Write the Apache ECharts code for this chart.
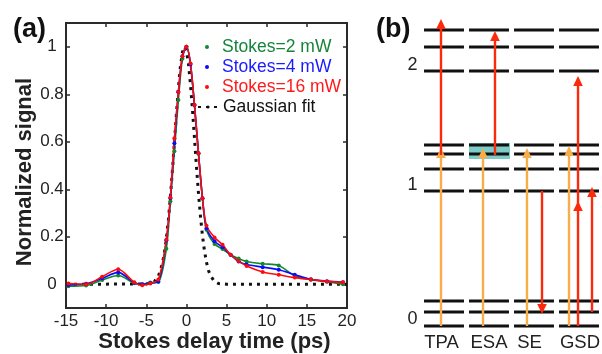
<!DOCTYPE html>
<html>
<head>
<meta charset="utf-8">
<script src="https://cdn.jsdelivr.net/npm/echarts@6/dist/echarts.min.js"></script>
<style>
  body { margin: 0; background: #fff; }
  #chart { width: 602px; height: 354px; }
</style>
</head>
<body>
<div id="chart"></div>
<script>
// panel (a): pump-probe traces
const delay = [-14.7, -12.5, -10.5, -8.5, -6.5, -5.5, -4.5, -3.5, -2.5, -2, -1.5, -1, -0.5, 0, 0.5, 1, 1.5, 2, 2.5, 3.5, 4.5, 5.5, 6.5, 7.5, 9.5, 11.5, 13.5, 15.5, 17.5, 19.5];
const stokes2 = [-0.008, -0.005, 0.018, 0.037, 0.004, 0.0, 0.007, 0.01, 0.15, 0.35, 0.56, 0.776, 0.95, 1.0, 0.93, 0.755, 0.55, 0.36, 0.229, 0.17, 0.148, 0.124, 0.108, 0.096, 0.086, 0.079, 0.035, 0.019, 0.011, 0.0];
const stokes4 = [-0.003, 0.002, 0.025, 0.05, 0.006, 0.0, 0.005, 0.012, 0.185, 0.362, 0.594, 0.81, 0.96, 1.0, 0.925, 0.755, 0.552, 0.362, 0.236, 0.181, 0.156, 0.124, 0.096, 0.083, 0.072, 0.061, 0.04, 0.021, 0.013, 0.008];
const stokes16 = [0.003, 0.0, 0.032, 0.063, 0.008, -0.004, 0.003, 0.02, 0.187, 0.365, 0.615, 0.81, 0.96, 1.0, 0.93, 0.755, 0.552, 0.362, 0.246, 0.197, 0.166, 0.124, 0.098, 0.077, 0.052, 0.04, 0.028, 0.02, 0.012, 0.008];
const gaussX = [-15, -5, -4, -3.5, -3, -2.75, -2.5, -2.25, -2, -1.75, -1.5, -1.25, -1, -0.75, -0.5, -0.25, 0, 0.25, 0.5, 0.75, 1, 1.25, 1.5, 1.75, 2, 2.25, 2.5, 2.75, 3, 3.5, 4, 5, 20];
const gaussY = [0, 0.001, 0.011, 0.033, 0.086, 0.131, 0.192, 0.271, 0.367, 0.478, 0.597, 0.717, 0.827, 0.917, 0.977, 1.0, 0.983, 0.929, 0.843, 0.736, 0.616, 0.496, 0.384, 0.285, 0.204, 0.14, 0.092, 0.058, 0.036, 0.012, 0.003, 0, 0];
const yTicks = [0, 0.2, 0.4, 0.6, 0.8, 1];

// panel (b): energy levels and transitions
const columns = ['TPA', 'ESA', 'SE', 'GSD'];
const columnLabelPos = [0.444, 1.5, 2.4, 3.522];
const levelEnergy = [0, 0.14, 0.25, 1.35, 1.57, 1.72, 1.81, 2.55, 2.79, 2.96];
const levelLabels = ['0', '1', '2'];
const levelLabelPos = [0.07, 1.41, 2.61];
// [x, from, to, colour index 0 = orange, 1 = red]
const transitions = [
  [0.433, 0, 1.78, 0], [0.433, 1.71, 3.07, 1],
  [1.367, 0, 1.78, 0], [1.633, 1.71, 2.95, 1],
  [2.344, 0, 1.78, 0], [2.678, 1.35, 0.12, 1],
  [3.278, 0, 1.80, 0], [3.478, 0, 1.25, 1], [3.478, 1.16, 2.5, 1], [3.789, 0.14, 1.39, 1]
];
const esaBox = [[1.056, 1.967, 1.67, 1.83]];

const FONT = "'Liberation Sans', Arial, sans-serif";
const AXIS_COLOR = '#2b2b2b';
const arrowColors = ['#f6ad4a', '#fb2a0c'];

const chart = echarts.init(document.getElementById('chart'));

const pairs = (xs, ys) => xs.map((x, i) => [x, ys[i]]);

const levelData = [];
columns.forEach((c, ci) => levelEnergy.forEach((e) => levelData.push([ci, e])));

const frameAxis = {
  axisLine: { show: true, onZero: false, lineStyle: { color: AXIS_COLOR, width: 2 } },
  axisTick: { show: true, inside: true, length: 4, lineStyle: { color: AXIS_COLOR, width: 1.5 } },
  splitLine: { show: false },
};

const dataSeries = (name, ys, color) => ({
  name,
  type: 'line',
  xAxisIndex: 0,
  yAxisIndex: 0,
  data: pairs(delay, ys),
  smooth: 0.3,
  symbol: 'circle',
  symbolSize: 4,
  showSymbol: true,
  itemStyle: { color },
  lineStyle: { color, width: 1.6 },
  z: 3,
});

const titleStyle = { fontSize: 27, fontWeight: 'bold', color: '#111', fontFamily: FONT };

const option = {
  animation: false,
  textStyle: { fontFamily: FONT },
  title: [
    { text: '(a)', left: 13, top: 16, padding: 0, textStyle: titleStyle },
    { text: '(b)', left: 376, top: 16, padding: 0, textStyle: titleStyle },
  ],
  legend: [
    {
      left: 205, top: 37, orient: 'vertical', padding: 0, itemGap: 0,
      itemWidth: 20, itemHeight: 4, icon: 'circle',
      textStyle: { fontSize: 17.5, lineHeight: 20, fontFamily: FONT },
      data: [
        { name: 'Stokes=2 mW', textStyle: { color: '#15843a' } },
        { name: 'Stokes=4 mW', textStyle: { color: '#1a1aff' } },
        { name: 'Stokes=16 mW', textStyle: { color: '#ff1a1a' } },
      ],
    },
    {
      left: 197, top: 97, orient: 'vertical', padding: 0,
      itemWidth: 20, itemHeight: 4,
      textStyle: { fontSize: 17.5, lineHeight: 20, color: '#111', fontFamily: FONT },
      data: ['Gaussian fit'],
    },
  ],
  grid: [
    { left: 66, top: 23, width: 281, height: 285, outerBoundsMode: 'none', show: true, borderColor: AXIS_COLOR, borderWidth: 2 },
    { left: 421.5, top: 19, width: 180, height: 307, outerBoundsMode: 'none' },
  ],
  xAxis: [
    {
      ...frameAxis, gridIndex: 0, type: 'value', position: 'bottom', min: -15, max: 20, interval: 5,
      axisLabel: { fontSize: 17, color: '#222', margin: 5 },
      name: 'Stokes delay time (ps)', nameLocation: 'middle', nameGap: 23, nameMoveOverlap: false,
      nameTextStyle: { fontSize: 22, fontWeight: 'bold', color: '#222', padding: [0, 0, 0, 16] },
    },
    {
      ...frameAxis, gridIndex: 0, type: 'value', position: 'top', min: -15, max: 20, interval: 5,
      axisLabel: { show: false },
    },
    {
      gridIndex: 1, type: 'value', min: 0, max: 4,
      axisLine: { show: false }, axisTick: { show: false }, splitLine: { show: false },
      axisLabel: {
        customValues: columnLabelPos, margin: 7, fontSize: 18.5, color: '#222',
        formatter: (v) => columns[columnLabelPos.indexOf(v)] || '',
      },
    },
  ],
  yAxis: [
    {
      ...frameAxis, gridIndex: 0, type: 'value', position: 'left', min: -0.1, max: 1.1,
      axisTick: { ...frameAxis.axisTick, customValues: yTicks },
      axisLabel: { customValues: yTicks, fontSize: 17, color: '#222', margin: 14, align: 'center' },
      name: 'Normalized signal', nameLocation: 'middle', nameGap: 30,
      nameTextStyle: { fontSize: 22, fontWeight: 'bold', color: '#222', padding: [0, 13, 0, 0] },
    },
    {
      ...frameAxis, gridIndex: 0, type: 'value', position: 'right', min: -0.1, max: 1.1,
      axisTick: { ...frameAxis.axisTick, customValues: yTicks },
      axisLabel: { show: false },
    },
    {
      gridIndex: 1, type: 'value', min: 0, max: 3.07,
      axisLine: { show: false }, axisTick: { show: false }, splitLine: { show: false },
      axisLabel: {
        customValues: levelLabelPos, margin: 4, fontSize: 18, color: '#222',
        formatter: (v) => levelLabels[levelLabelPos.indexOf(v)] || '',
      },
    },
  ],
  series: [
    {
      name: 'Gaussian fit',
      type: 'line',
      xAxisIndex: 0,
      yAxisIndex: 0,
      data: pairs(gaussX, gaussY),
      symbol: 'none',
      itemStyle: { color: '#111' },
      lineStyle: { color: '#111', width: 3, type: [3, 5], cap: 'butt' },
      z: 2,
    },
    dataSeries('Stokes=2 mW', stokes2, '#108a2a'),
    dataSeries('Stokes=4 mW', stokes4, '#0a0aff'),
    dataSeries('Stokes=16 mW', stokes16, '#ff0a0a'),
    {
      type: 'custom',
      xAxisIndex: 2,
      yAxisIndex: 2,
      data: esaBox,
      z: 1,
      renderItem: (params, api) => {
        const a = api.coord([api.value(0), api.value(3)]);
        const b = api.coord([api.value(1), api.value(2)]);
        return {
          type: 'rect',
          shape: { x: a[0], y: a[1], width: b[0] - a[0], height: b[1] - a[1] },
          style: { fill: '#7ccdc8' },
        };
      },
    },
    {
      type: 'custom',
      xAxisIndex: 2,
      yAxisIndex: 2,
      data: levelData,
      z: 2,
      renderItem: (params, api) => {
        const col = api.value(0);
        const e = api.value(1);
        const a = api.coord([col + 0.056, e]);
        const b = api.coord([col + 0.944, e]);
        return {
          type: 'line',
          shape: { x1: a[0], y1: a[1], x2: b[0], y2: b[1] },
          style: { stroke: '#111', lineWidth: 3 },
        };
      },
    },
    {
      type: 'custom',
      xAxisIndex: 2,
      yAxisIndex: 2,
      data: transitions,
      z: 3,
      renderItem: (params, api) => {
        const x = api.value(0);
        const p0 = api.coord([x, api.value(1)]);
        const p1 = api.coord([x, api.value(2)]);
        const color = arrowColors[api.value(3)];
        const dir = p1[1] < p0[1] ? -1 : 1;
        const base = p1[1] - dir * 10;
        return {
          type: 'group',
          children: [
            {
              type: 'line',
              shape: { x1: p0[0], y1: p0[1], x2: p1[0], y2: base },
              style: { stroke: color, lineWidth: 2.4 },
            },
            {
              type: 'polygon',
              shape: { points: [[p1[0], p1[1]], [p1[0] - 4.8, base], [p1[0] + 4.8, base]] },
              style: { fill: color },
            },
          ],
        };
      },
    },
  ],
};

chart.setOption(option);
</script>
</body>
</html>
